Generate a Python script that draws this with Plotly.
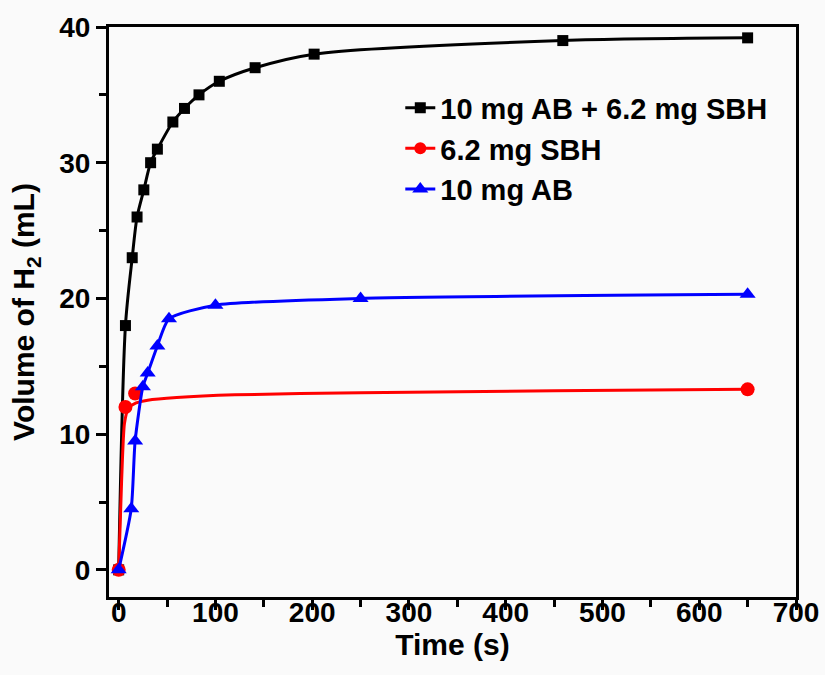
import plotly.graph_objects as go

# Hydrogen evolution measurements
t_mix = [0, 7, 14, 19, 26, 33, 40, 56, 68, 83, 104, 141, 202, 459, 650]
v_mix = [0, 18, 23, 26, 28, 30, 31, 33, 34, 35, 36, 37, 38, 39, 39.2]

t_sbh = [0, 7, 17, 650]
v_sbh = [0, 12, 13, 13.3]
# fitted curve for SBH
t_sbh_fit = [0, 3, 6, 10, 18, 30, 60, 120, 250, 450, 650]
v_sbh_fit = [0, 6.5, 10.8, 11.9, 12.3, 12.5, 12.7, 12.9, 13.05, 13.2, 13.3]

t_ab = [0, 13, 17, 25, 30, 40, 52, 100, 250, 650]
v_ab = [0, 4.5, 9.5, 13.5, 14.5, 16.5, 18.5, 19.5, 20.0, 20.3]

x_ticks = [0, 100, 200, 300, 400, 500, 600, 700]
y_ticks = [0, 10, 20, 30, 40]

FONT = "Liberation Sans"
fig = go.Figure()

fig.add_trace(go.Scatter(
    x=t_mix, y=v_mix, mode="lines+markers", name="10 mg AB + 6.2 mg SBH",
    line=dict(color="black", width=3, shape="spline", smoothing=0.8),
    marker=dict(symbol="square", size=11, color="black"),
))
fig.add_trace(go.Scatter(
    x=t_sbh_fit, y=v_sbh_fit, mode="lines", showlegend=False, legendgroup="sbh",
    line=dict(color="#ff0000", width=3, shape="spline", smoothing=0.6),
))
fig.add_trace(go.Scatter(
    x=t_sbh, y=v_sbh, mode="markers", showlegend=False, legendgroup="sbh",
    marker=dict(symbol="circle", size=14, color="#ff0000"),
))
fig.add_trace(go.Scatter(
    x=[None], y=[None], mode="lines+markers", name="6.2 mg SBH", legendgroup="sbh",
    line=dict(color="#ff0000", width=3),
    marker=dict(symbol="circle", size=12, color="#ff0000"),
))
fig.add_trace(go.Scatter(
    x=t_ab, y=v_ab, mode="lines+markers", name="10 mg AB",
    line=dict(color="#0000ff", width=3, shape="spline", smoothing=0.6),
    marker=dict(symbol="triangle-up", size=14, color="#0000ff"),
))

axis_common = dict(
    showgrid=False, zeroline=False, showline=True, linecolor="black", linewidth=3,
    mirror=True, ticks="outside", ticklen=10, tickwidth=3, tickcolor="black",
    automargin=False,
    tickfont=dict(family=FONT, size=28, color="black", weight="bold"),
)

fig.update_xaxes(
    range=[-10, 700], tickvals=x_ticks, ticklabelstandoff=-22,
    minor=dict(ticks="outside", ticklen=7, tickwidth=3, tickcolor="black", dtick=50, tick0=0),
    title=dict(text="Time (s)", font=dict(family=FONT, size=30, color="black", weight="bold"),
               standoff=0),
    **axis_common,
)
fig.update_yaxes(
    range=[-2, 40], tickvals=y_ticks,
    minor=dict(ticks="outside", ticklen=7, tickwidth=3, tickcolor="black", dtick=5, tick0=0),
    title=dict(text="Volume of H<sub>2</sub> (mL)",
               font=dict(family=FONT, size=30, color="black", weight="bold"), standoff=16),
    **axis_common,
)

fig.update_layout(
    width=825, height=675,
    margin=dict(l=109, r=29, t=27, b=78),
    paper_bgcolor="#fafafa", plot_bgcolor="#fafafa",
    legend=dict(
        x=0.424, y=0.903, xanchor="left", yanchor="top",
        bgcolor="rgba(0,0,0,0)", tracegroupgap=0,
        font=dict(family=FONT, size=29, color="black", weight="bold"),
    ),
)

fig.write_html("out.html")
